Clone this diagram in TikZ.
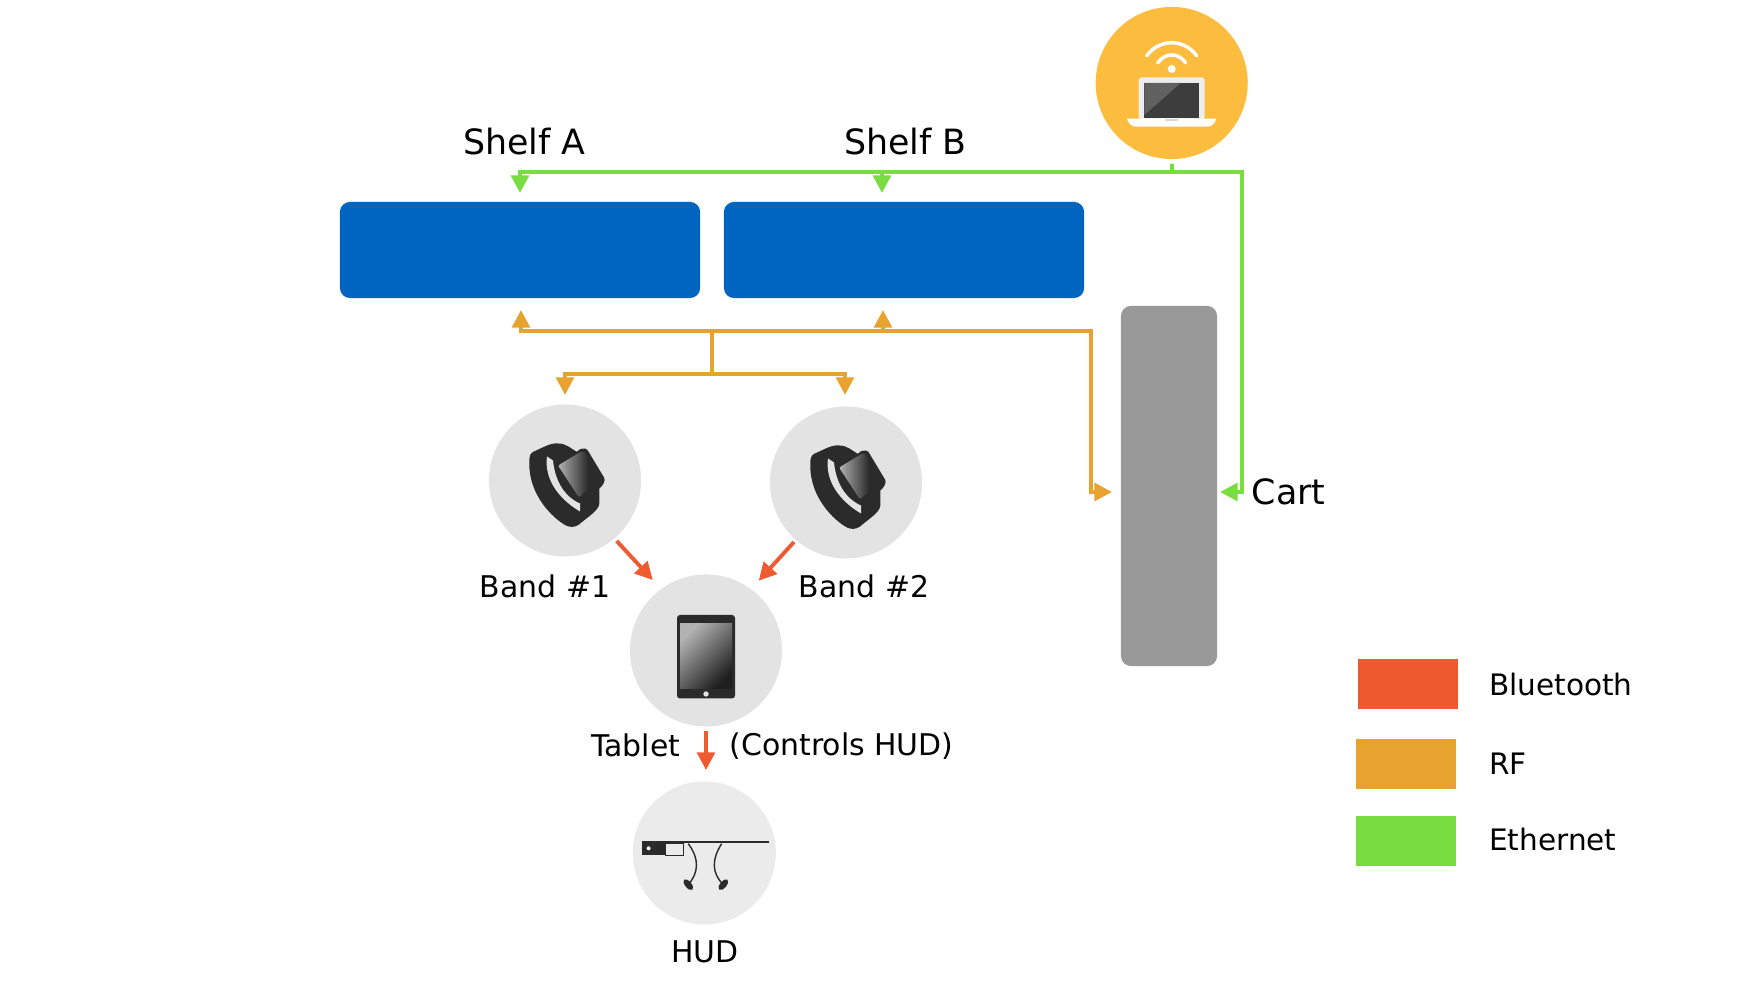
\documentclass[tikz,border=0pt]{standalone}
\usepackage{fontspec}
\setmainfont{DejaVu Sans}
\usetikzlibrary{arrows.meta}
\definecolor{shelfblue}{HTML}{0065C0}
\definecolor{cartgray}{HTML}{999999}
\definecolor{discgray}{HTML}{E3E3E3}
\definecolor{hudgray}{HTML}{EBEBEB}
\definecolor{iconblack}{HTML}{2B2B2B}
\definecolor{laporange}{HTML}{FCBC3E}
\definecolor{btred}{HTML}{F05A30}
\definecolor{rforange}{HTML}{E8A22F}
\definecolor{ethgreen}{HTML}{79DC40}
\tikzset{
	disc/.style={circle,fill=discgray,minimum size=1.52cm,inner sep=0},
	shelf/.style={rectangle,rounded corners=0.1cm,fill=shelfblue,minimum width=3.6cm,minimum height=0.96cm,inner sep=0},
	legendbox/.style={rectangle,minimum width=1cm,minimum height=0.5cm,inner sep=0},
	biglab/.style={inner sep=0,font=\fontsize{9.9}{12}\selectfont},
	lab/.style={inner sep=0,font=\fontsize{8.5}{10}\selectfont},
	leglab/.style={inner sep=0,anchor=west,font=\fontsize{8.4}{10}\selectfont},
	tip/.style={-{Triangle[length=5pt,width=5pt]}},
	btline/.style={tip,btred,line width=1.1pt},
	rfline/.style={tip,rforange,line width=1.1pt},
	ethline/.style={tip,ethgreen,line width=1.1pt},
}
\begin{document}
\begin{tikzpicture}[x=0.01cm,y=-0.01cm]
	\useasboundingbox (0,0) rectangle (1758,983);
	% boxes
	\node[shelf] (shelfA) at (520,250) {};
	\node[shelf] (shelfB) at (904,250) {};
	\node[rectangle,rounded corners=0.1cm,fill=cartgray,minimum width=0.96cm,minimum height=3.6cm,inner sep=0] (cart) at (1169,486) {};
	\node[circle,fill=laporange,minimum size=1.52cm,inner sep=0] (laptop) at (1171.7,83) {};
	\node[disc] (band1) at (565,480.5) {};
	\node[disc] (band2) at (846,482.5) {};
	\node[disc] (tablet) at (706,650.5) {};
	\node[disc,fill=hudgray,minimum size=1.43cm] (hud) at (704.3,853) {};
	% labels
	\node[biglab] (labA) at (524.5,142) {Shelf A};
	\node[biglab] (labB) at (905.6,142) {Shelf B};
	\node[biglab,anchor=west] (labcart) at (1251,492) {Cart};
	\node[lab] (lab1) at (545,586.5) {Band \#1};
	\node[lab] (lab2) at (864,586.5) {Band \#2};
	\node[lab] (labtab) at (635.6,745) {Tablet};
	\node[lab] (labctl) at (841.5,746) {(Controls HUD)};
	\node[lab] (labhud) at (705,952) {HUD};
	% ethernet
	\coordinate (ethjoin) at (1172,172);
	\coordinate (ethcorner) at (1242,172);
	\coordinate (ethA) at (520,193);
	\coordinate (ethB) at (882,193);
	\coordinate (ethcart) at (1220,492);
	\draw[ethgreen,line width=1.1pt,shorten <=0.04cm] (laptop.south) -- (ethjoin);
	\draw[ethline] (ethjoin) -| (ethA);
	\draw[ethline] (ethjoin) -| (ethB);
	\draw[ethline] (ethjoin) -- (ethcorner) |- (ethcart);
	% rf
	\coordinate (rfjoin) at (712,331);
	\coordinate (rfdown) at (712,374);
	\coordinate (rfcorner) at (1091,331);
	\coordinate (rfA) at (521,310);
	\coordinate (rfB) at (883,310);
	\coordinate (rfcart) at (1112,492);
	\coordinate (rf1) at (565,395);
	\coordinate (rf2) at (845,395);
	\draw[rfline] (rfjoin) -| (rfA);
	\draw[rfline] (rfjoin) -| (rfB);
	\draw[rfline] (rfjoin) -- (rfcorner) |- (rfcart);
	\draw[rforange,line width=1.1pt] (rfjoin) -- (rfdown);
	\draw[rfline] (rfdown) -| (rf1);
	\draw[rfline] (rfdown) -| (rf2);
	% bluetooth
	\coordinate (bt1) at (616.7,541);
	\coordinate (bt2) at (794,542);
	\coordinate (bt3) at (706,731);
	\coordinate (bthud) at (706,770);
	\draw[btline] (bt1) -- (652.7,580);
	\draw[btline] (bt2) -- (758.7,580.7);
	\draw[btline] (bt3) -- (bthud);
	% band icons
	\foreach \n in {band1,band2} {
		\begin{scope}[shift={(\n)}]
			\fill[iconblack] (-35.7,-17) .. controls (-36,-24) and (-35,-27) .. (-31.7,-28.7) .. controls (-22,-33) and (-14,-38) .. (-6.7,-37) .. controls (1,-37) and (6,-32) .. (11.7,-28.7) .. controls (14,-31) and (17,-33) .. (20,-32) .. controls (22,-31.5) and (23,-30) .. (24,-28) -- (39,-3) .. controls (41,0) and (38,5) .. (34.3,8) -- (34.3,23) .. controls (34,30) and (22,37) .. (14,44) .. controls (10,47) and (5,47) .. (1,45) .. controls (-12,38) and (-36,15) .. (-35.7,-17) -- cycle;
			\fill[discgray] (-18,-24) .. controls (-21,-2) and (-7,18) .. (15,31) -- (15,23) .. controls (-1,16) and (-10,0) .. (-12,-20) -- cycle;
			\shade[left color=black!30,right color=black!85,rounded corners=0.02cm] (-7,-15) -- (18,-30) -- (24,-22) -- (24,8) -- (14,17) -- cycle;
		\end{scope}
	}
	% tablet icon
	\begin{scope}[shift={(tablet)}]
		\fill[iconblack,rounded corners=0.03cm] (-29,-35.5) rectangle (29,48);
		\shade[top color=black!30,middle color=black!80,bottom color=black!88,shading angle=45] (-26,-26.5) rectangle (26,38);
		\fill[discgray] (0,43.5) circle (2.7);
	\end{scope}
	% laptop icon
	\begin{scope}[shift={(laptop)}]
		\fill[white!93!black,rounded corners=0.03cm] (-33,-5.7) rectangle (33,37);
		\fill[black!76] (-27.3,0) rectangle (27.3,35);
		\fill[black!62] (-27.3,0) -- (9,0) -- (-27.3,32) -- cycle;
		\fill[white] (-44.7,35.7) -- (44.3,35.7) .. controls (44,40) and (40,43.7) .. (36,43.7) -- (-36,43.7) .. controls (-40,43.7) and (-44,40) .. (-44.7,35.7) -- cycle;
		\fill[black!15] (-6.7,36) rectangle (6.7,38);
		\fill[white] (0,-14) circle (4);
		\draw[white,line width=1pt,line cap=round] (-14,-20) .. controls (-7,-30.7) and (7,-30.7) .. (14,-20);
		\draw[white,line width=1pt,line cap=round] (-25,-27.3) .. controls (-12,-44.6) and (12,-44.6) .. (25,-27.3);
	\end{scope}
	% hud icon
	\begin{scope}[shift={(hud)}]
		\draw[iconblack,line width=0.7pt] (-62,-11) -- (65,-11);
		\fill[white!92!black] (-38.7,-9.3) rectangle (-21,2.3);
		\draw[iconblack,line width=0.25pt] (-38.7,-9.3) rectangle (-21,2.3);
		\fill[iconblack] (-62.7,-12.3) rectangle (-38.7,2.3);
		\fill[white] (-55.7,-4.7) circle (2);
		\draw[iconblack,line width=0.4pt] (-16,-9.3) .. controls (-4.3,6.7) and (-6,20) .. (-16,31.7);
		\draw[iconblack,line width=0.4pt] (17.3,-9.3) .. controls (7.3,6.7) and (7.3,20) .. (19,31.7);
		\fill[iconblack,rotate around={-50:(-16,31.7)}] (-16,31.7) ellipse (6.5 and 3.2);
		\fill[iconblack,rotate around={50:(19,31.7)}] (19,31.7) ellipse (6.5 and 3.2);
	\end{scope}
	% legend
	\foreach \n/\c/\x/\y/\t/\ty in {legbt/btred/1408/684/Bluetooth/684,legrf/rforange/1406/764/RF/764,legeth/ethgreen/1406/841/Ethernet/839.5} {
		\node[legendbox,fill=\c] (\n) at (\x,\y) {};
		\node[leglab] (\n lab) at (1488.5,\ty) {\t};
	}
\end{tikzpicture}
\end{document}
